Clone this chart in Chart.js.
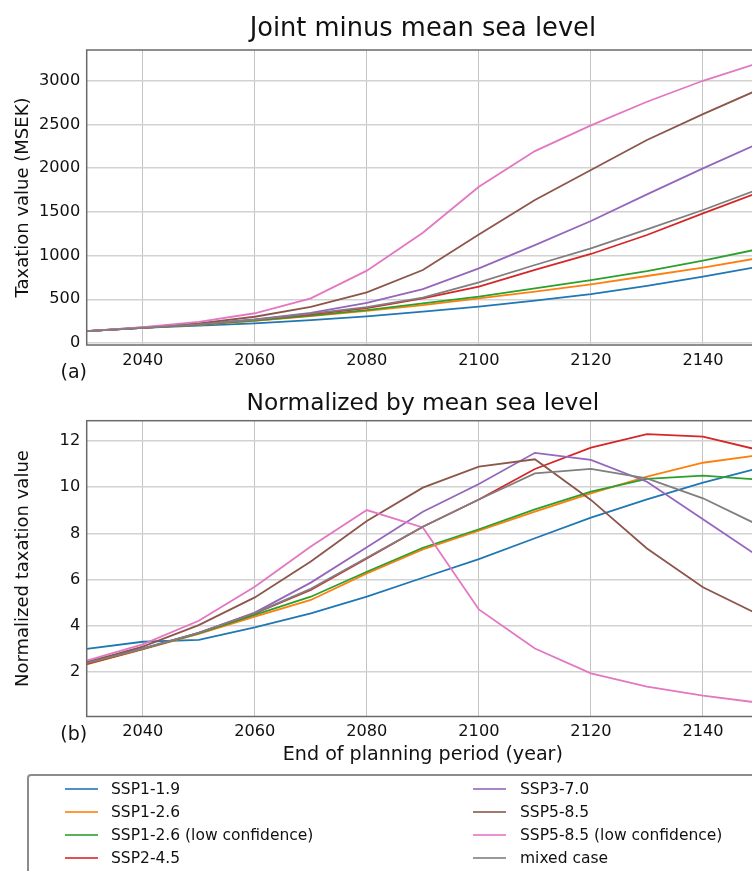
<!DOCTYPE html>
<html>
<head>
<meta charset="utf-8">
<script src="https://cdn.jsdelivr.net/npm/chart.js@4.4.1/dist/chart.umd.min.js"></script>
<style>
html,body{margin:0;padding:0;background:#fff;overflow:hidden;width:752px;height:871px;}
#wrap{position:relative;width:752px;height:871px;overflow:hidden;background:#fff;}
#c1{position:absolute;left:0;top:0;}
#c2{position:absolute;left:0;top:380px;}
#legendBox{position:absolute;left:27px;top:774px;width:780px;height:130px;border:2px solid #8c8c8c;border-radius:4px;box-sizing:border-box;}
.ln{position:absolute;width:33px;height:2px;opacity:0.8;}
.tx{position:absolute;white-space:nowrap;height:20px;line-height:20px;font-family:'DejaVu Sans',sans-serif;font-size:15.5px;color:#111;}
</style>
</head>
<body>
<div id="wrap">
  <canvas id="c1" width="759" height="385"></canvas>
  <canvas id="c2" width="759" height="400"></canvas>
  <div id="legendBox"></div>
  <div id="legend"></div>
</div>
<script>
// ---------------- DATA ----------------
const years = [2030, 2040, 2050, 2060, 2070, 2080, 2090, 2100, 2110, 2120, 2130, 2140, 2150];
const seriesNames = ['SSP1-1.9', 'SSP1-2.6', 'SSP1-2.6 (low confidence)', 'SSP2-4.5',
                     'SSP3-7.0', 'SSP5-8.5', 'SSP5-8.5 (low confidence)', 'mixed case'];

// (a) Joint minus mean sea level, taxation value (MSEK)
const joint_ssp119   = [135, 172, 198, 224, 262, 305, 358, 415, 484, 560, 652, 758, 873];
const joint_ssp126   = [135, 173, 208, 252, 308, 368, 434, 511, 587, 671, 766, 861, 972];
const joint_ssp126lc = [135, 173, 210, 255, 314, 375, 453, 530, 625, 720, 823, 941, 1075];
const joint_ssp245   = [135, 174, 214, 264, 328, 400, 511, 644, 835, 1018, 1235, 1482, 1723];
const joint_ssp370   = [135, 175, 216, 270, 345, 460, 617, 854, 1120, 1395, 1700, 1997, 2283];
const joint_ssp585   = [135, 177, 225, 300, 412, 580, 835, 1242, 1635, 1978, 2321, 2618, 2900];
const joint_ssp585lc = [135, 180, 242, 340, 511, 827, 1261, 1787, 2195, 2489, 2759, 2999, 3205];
const joint_mixed    = [135, 174, 214, 266, 335, 410, 518, 694, 892, 1082, 1300, 1521, 1761];

// (b) Normalized by mean sea level
const norm_ssp119   = [3.00, 3.31, 3.39, 3.93, 4.54, 5.26, 6.08, 6.89, 7.79, 8.68, 9.47, 10.20, 10.83];
const norm_ssp126   = [2.33, 2.98, 3.65, 4.40, 5.12, 6.27, 7.31, 8.12, 8.94, 9.73, 10.46, 11.06, 11.39];
const norm_ssp126lc = [2.35, 3.00, 3.67, 4.47, 5.26, 6.34, 7.38, 8.18, 9.04, 9.81, 10.36, 10.50, 10.33];
const norm_ssp245   = [2.35, 3.00, 3.70, 4.54, 5.55, 6.92, 8.29, 9.47, 10.79, 11.71, 12.30, 12.19, 11.61];
const norm_ssp370   = [2.45, 3.02, 3.70, 4.57, 5.87, 7.40, 8.94, 10.14, 11.49, 11.18, 10.24, 8.61, 6.99];
const norm_ssp585   = [2.42, 3.10, 4.03, 5.23, 6.78, 8.54, 9.98, 10.89, 11.21, 9.45, 7.35, 5.67, 4.48];
const norm_ssp585lc = [2.49, 3.20, 4.22, 5.69, 7.43, 9.01, 8.26, 4.71, 3.02, 1.94, 1.37, 0.98, 0.67];
const norm_mixed    = [2.38, 3.00, 3.70, 4.55, 5.60, 6.95, 8.29, 9.47, 10.60, 10.79, 10.38, 9.52, 8.35];

const xTicks = [2040, 2060, 2080, 2100, 2120, 2140];
const yTicksTop = [0, 500, 1000, 1500, 2000, 2500, 3000];
const yTicksBottom = [2, 4, 6, 8, 10, 12];

// ---------------- STYLE ----------------
const seriesColors = ['#1f77b4', '#ff7f0e', '#2ca02c', '#d62728', '#9467bd', '#8c564b', '#e377c2', '#7f7f7f'];
const FONT = "'DejaVu Sans', sans-serif";
const TXT = '#111111';

const framePlugin = {
  id: 'frame',
  afterDatasetsDraw(chart) {
    const {ctx, chartArea: a} = chart;
    ctx.save();
    ctx.strokeStyle = '#6a6a6a';
    ctx.lineWidth = 1.5;
    ctx.strokeRect(a.left, a.top, a.right - a.left, a.bottom - a.top);
    ctx.restore();
  },
  afterDraw(chart, args, opts) {
    if (!opts || !opts.text) return;
    const ctx = chart.ctx;
    ctx.save();
    ctx.font = '19px ' + FONT;
    ctx.fillStyle = TXT;
    ctx.textAlign = 'center';
    ctx.textBaseline = 'middle';
    ctx.fillText(opts.text, opts.x, opts.y);
    ctx.restore();
  }
};

function makeChart(canvas, cfg) {
  return new Chart(canvas, {
    type: 'line',
    data: {
      datasets: cfg.series.map((arr, i) => ({
        label: seriesNames[i],
        data: years.map((x, j) => ({x: x, y: arr[j]})),
        borderColor: seriesColors[i],
        backgroundColor: seriesColors[i],
        borderWidth: 1.8,
        pointRadius: 0,
        pointHoverRadius: 0,
        tension: 0,
        fill: false,
        order: seriesNames.length - i
      }))
    },
    options: {
      responsive: false,
      animation: false,
      devicePixelRatio: 1,
      layout: {padding: {left: 0, right: 0, top: 0, bottom: cfg.padBottom}},
      plugins: {
        legend: {display: false},
        tooltip: {enabled: false},
        title: {
          display: true, fullSize: false, text: cfg.title, color: TXT,
          font: {family: FONT, size: cfg.titleSize, weight: 'normal'},
          padding: {top: cfg.titlePadTop, bottom: cfg.titlePadBottom}
        },
        frame: {text: cfg.panel, x: 73.7, y: cfg.panelY}
      },
      scales: {
        x: {
          type: 'linear', bounds: 'data', min: 2030, max: 2150,
          afterBuildTicks: s => { s.ticks = xTicks.map(v => ({value: v})); },
          afterFit: s => { s.height = cfg.xHeight; s.paddingLeft = 0; s.paddingRight = 0; },
          grid: {color: '#c4c4c4', lineWidth: 1, drawTicks: false},
          border: {display: false},
          ticks: {color: TXT, font: {family: FONT, size: 16.2}, padding: 6, maxRotation: 0, autoSkip: false,
                  callback: v => String(v)},
          title: cfg.xTitle ? {
            display: true, text: cfg.xTitle, color: TXT,
            font: {family: FONT, size: 19.1}, padding: {top: 0, bottom: cfg.xTitlePad}
          } : {display: false}
        },
        y: {
          type: 'linear', bounds: 'data', min: cfg.yMin, max: cfg.yMax,
          afterBuildTicks: s => { s.ticks = cfg.yTicks.map(v => ({value: v})); },
          afterFit: s => { s.width = 86.7; },
          grid: {color: '#d2d2d2', lineWidth: 1.5, drawTicks: false},
          border: {display: false},
          ticks: {color: TXT, font: {family: FONT, size: 16.2}, padding: 6.5, autoSkip: false,
                  callback: v => String(v)},
          title: {
            display: true, text: cfg.yTitle, color: TXT,
            font: {family: FONT, size: 18}, padding: {top: 12.4, bottom: 0}
          }
        }
      }
    },
    plugins: [framePlugin]
  });
}

makeChart(document.getElementById('c1'), {
  series: [joint_ssp119, joint_ssp126, joint_ssp126lc, joint_ssp245, joint_ssp370, joint_ssp585, joint_ssp585lc, joint_mixed],
  title: 'Joint minus mean sea level', titleSize: 25.7, titlePadTop: 13.8, titlePadBottom: 5.36,
  yTitle: 'Taxation value (MSEK)', yMin: -23, yMax: 3351, yTicks: yTicksTop,
  xHeight: 40, padBottom: 0, xTitle: null,
  panel: '(a)', panelY: 373.5
});

makeChart(document.getElementById('c2'), {
  series: [norm_ssp119, norm_ssp126, norm_ssp126lc, norm_ssp245, norm_ssp370, norm_ssp585, norm_ssp585lc, norm_mixed],
  title: 'Normalized by mean sea level', titleSize: 23.3, titlePadTop: 9.6, titlePadBottom: 3.14,
  yTitle: 'Normalized taxation value', yMin: 0.074, yMax: 12.88, yTicks: yTicksBottom,
  xHeight: 60, padBottom: 3.5, xTitle: 'End of planning period (year)', xTitlePad: 9.54,
  panel: '(b)', panelY: 355
});

// ---------------- LEGEND (HTML, two columns, column-major) ----------------
(function buildLegend() {
  const leg = document.getElementById('legend');
  const rowsY = [788.5, 811.5, 834.5, 857.5];
  const cols = [{line: 65, text: 111}, {line: 473, text: 520}];
  seriesNames.forEach((name, i) => {
    const c = cols[Math.floor(i / 4)];
    const y = rowsY[i % 4];
    const ln = document.createElement('div');
    ln.className = 'ln';
    ln.style.left = c.line + 'px';
    ln.style.top = (y - 1) + 'px';
    ln.style.background = seriesColors[i];
    leg.appendChild(ln);
    const tx = document.createElement('div');
    tx.className = 'tx';
    tx.style.left = c.text + 'px';
    tx.style.top = (y - 10) + 'px';
    tx.textContent = name;
    leg.appendChild(tx);
  });
})();
</script>
</body>
</html>
